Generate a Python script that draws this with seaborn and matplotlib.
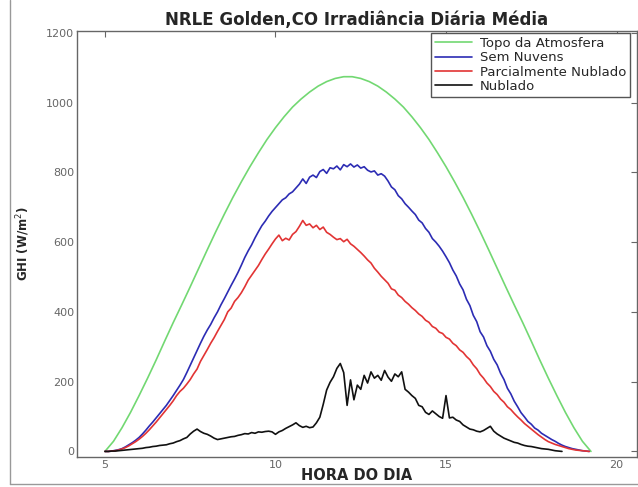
import numpy as np
import pandas as pd
import seaborn as sns
import matplotlib
matplotlib.use("Agg")
import matplotlib.pyplot as plt
from matplotlib.lines import Line2D

# series names / colours (legend order)
series_names = ['Topo da Atmosfera', 'Sem Nuvens', 'Parcialmente Nublado', 'Nublado']
series_colors = ['#72d872', '#2c2cb4', '#e23434', '#111111']

# top of atmosphere, every 15 min from 5:00 to 19:15
hora_toa = np.arange(5.0, 19.3, 0.25)
ghi_toa = [0, 29, 68, 112, 160, 210, 262, 316, 369, 420, 472, 525, 578, 630,
           680, 728, 773, 816, 856, 894, 928, 959, 987, 1010, 1030, 1047, 1060, 1069, 1074,
           1074, 1069, 1060, 1047, 1030, 1010, 987, 959, 928, 894, 856, 816, 773, 728,
           680, 630, 578, 525, 472, 420, 369, 316, 262, 210, 160, 112, 68, 29, 0]

# measured curves, every 6 min
hora_ceu = np.round(np.arange(5.0, 19.21, 0.1), 1)
ghi_sem_nuvens = [
    0, 0, 1, 3, 5, 8, 13, 19, 25, 32,
    40, 50, 61, 73, 84, 96, 108, 120, 132, 146,
    160, 175, 190, 206, 226, 247, 268, 289, 310, 330,
    348, 364, 383, 400, 420, 438, 457, 476, 494, 513,
    534, 556, 575, 592, 612, 630, 647, 660, 675, 688,
    699, 710, 721, 727, 738, 744, 755, 766, 781, 768,
    786, 792, 785, 802, 808, 797, 813, 810, 818, 807,
    822, 816, 824, 815, 821, 812, 816, 806, 801, 804,
    792, 796, 789, 775, 758, 750, 733, 724, 710, 700,
    689, 679, 663, 655, 639, 628, 610, 600, 588, 574,
    558, 541, 520, 503, 480, 463, 436, 418, 390, 372,
    343, 328, 303, 287, 264, 248, 224, 206, 181, 165,
    144, 128, 111, 99, 86, 78, 67, 61, 52, 46,
    40, 34, 29, 23, 18, 14, 11, 8, 6, 4,
    2, 1, 0]
ghi_parcial = [
    0, 0, 1, 2, 4, 7, 11, 16, 22, 28,
    35, 43, 52, 62, 73, 84, 96, 108, 120, 132,
    145, 160, 172, 181, 193, 206, 222, 236, 258, 275,
    292, 310, 326, 344, 361, 378, 400, 411, 430, 441,
    455, 472, 491, 505, 519, 533, 550, 566, 580, 595,
    609, 620, 604, 611, 606, 622, 630, 645, 662, 648,
    652, 641, 648, 636, 643, 628, 622, 614, 607, 610,
    601, 608, 595, 588, 579, 570, 560, 549, 540, 525,
    514, 502, 492, 482, 466, 462, 448, 441, 430, 422,
    412, 404, 394, 387, 376, 370, 358, 353, 342, 338,
    327, 322, 310, 303, 291, 284, 272, 263, 248, 237,
    221, 210, 196, 186, 172, 163, 150, 141, 128, 120,
    109, 99, 90, 80, 72, 64, 56, 48, 41, 34,
    28, 24, 20, 17, 14, 11, 8, 6, 4, 3,
    2, 1, 0]

hora_nublado = np.round(np.arange(5.0, 18.41, 0.1), 1)
ghi_nublado = [
    0, 0, 1, 1, 2, 3, 4, 5, 6, 7,
    8, 9, 11, 12, 14, 15, 17, 18, 19, 22,
    24, 28, 31, 36, 40, 50, 58, 64, 57, 52,
    49, 44, 38, 34, 36, 38, 40, 42, 43, 46,
    48, 51, 50, 54, 52, 56, 55, 57, 58, 56,
    49, 56, 60, 66, 71, 76, 82, 74, 69, 72,
    68, 70, 82, 98, 135, 176, 198, 214, 238, 252,
    226, 132, 205, 148, 190, 178, 218, 196, 228, 210,
    218, 204, 232, 213, 201, 222, 214, 228, 178, 170,
    160, 152, 132, 128, 112, 106, 116, 108, 100, 95,
    160, 96, 98, 90, 86, 76, 70, 64, 62, 58,
    56, 60, 66, 72, 58, 50, 44, 38, 34, 30,
    26, 24, 20, 17, 15, 14, 12, 10, 8, 7,
    6, 4, 2, 1, 0]

x_ticks = [5, 10, 15, 20]
y_ticks = [0, 200, 400, 600, 800, 1000, 1200]

df = pd.concat([
    pd.DataFrame({'hora': hora_toa, 'ghi': ghi_toa, 'serie': series_names[0]}),
    pd.DataFrame({'hora': hora_ceu, 'ghi': ghi_sem_nuvens, 'serie': series_names[1]}),
    pd.DataFrame({'hora': hora_ceu, 'ghi': ghi_parcial, 'serie': series_names[2]}),
    pd.DataFrame({'hora': hora_nublado, 'ghi': ghi_nublado, 'serie': series_names[3]}),
], ignore_index=True)

sns.set_style("white")
plt.rcParams['font.family'] = ['DejaVu Sans']

fig = plt.figure(figsize=(6.38, 4.87), dpi=100)
ax = fig.add_axes([77 / 638, 1 - 457 / 487, 560 / 638, 426 / 487])

sns.lineplot(data=df, x='hora', y='ghi', hue='serie', hue_order=series_names,
             palette=dict(zip(series_names, series_colors)), estimator=None,
             linewidth=1.2, ax=ax)

ax.set_xlim(4.18, 20.6)
ax.set_ylim(-16, 1205)
ax.set_xticks(x_ticks)
ax.set_yticks(y_ticks)
ax.tick_params(direction='in', length=4, width=0.8, colors='#666666',
               labelsize=8, pad=2, top=True, right=True)
for s in ax.spines.values():
    s.set_color('#666666')
    s.set_linewidth(1.0)

ax.set_title('NRLE Golden,CO Irradiância Diária Média', fontsize=12,
             fontweight='bold', pad=4)
ax.set_xlabel('HORA DO DIA', fontsize=10.5, fontweight='bold', labelpad=-1)
ax.set_ylabel('GHI (W/m$^2$)', fontsize=8.5, fontweight='bold', labelpad=10)

ax.legend(loc='upper right', bbox_to_anchor=((630 - 77) / 560, 1 - 2 / 426),
          borderaxespad=0, fontsize=9.5, labelspacing=0.1, handlelength=2.8,
          handletextpad=0.6, borderpad=0.3, fancybox=False, framealpha=1,
          edgecolor='#555555')

# figure frame (left and bottom edges of the original screenshot)
fig.add_artist(Line2D([10 / 638, 10 / 638], [3 / 487, 1], color='#999999', lw=1))
fig.add_artist(Line2D([10 / 638, 1], [3 / 487, 3 / 487], color='#999999', lw=1))

fig.savefig('out.png', dpi=100)
